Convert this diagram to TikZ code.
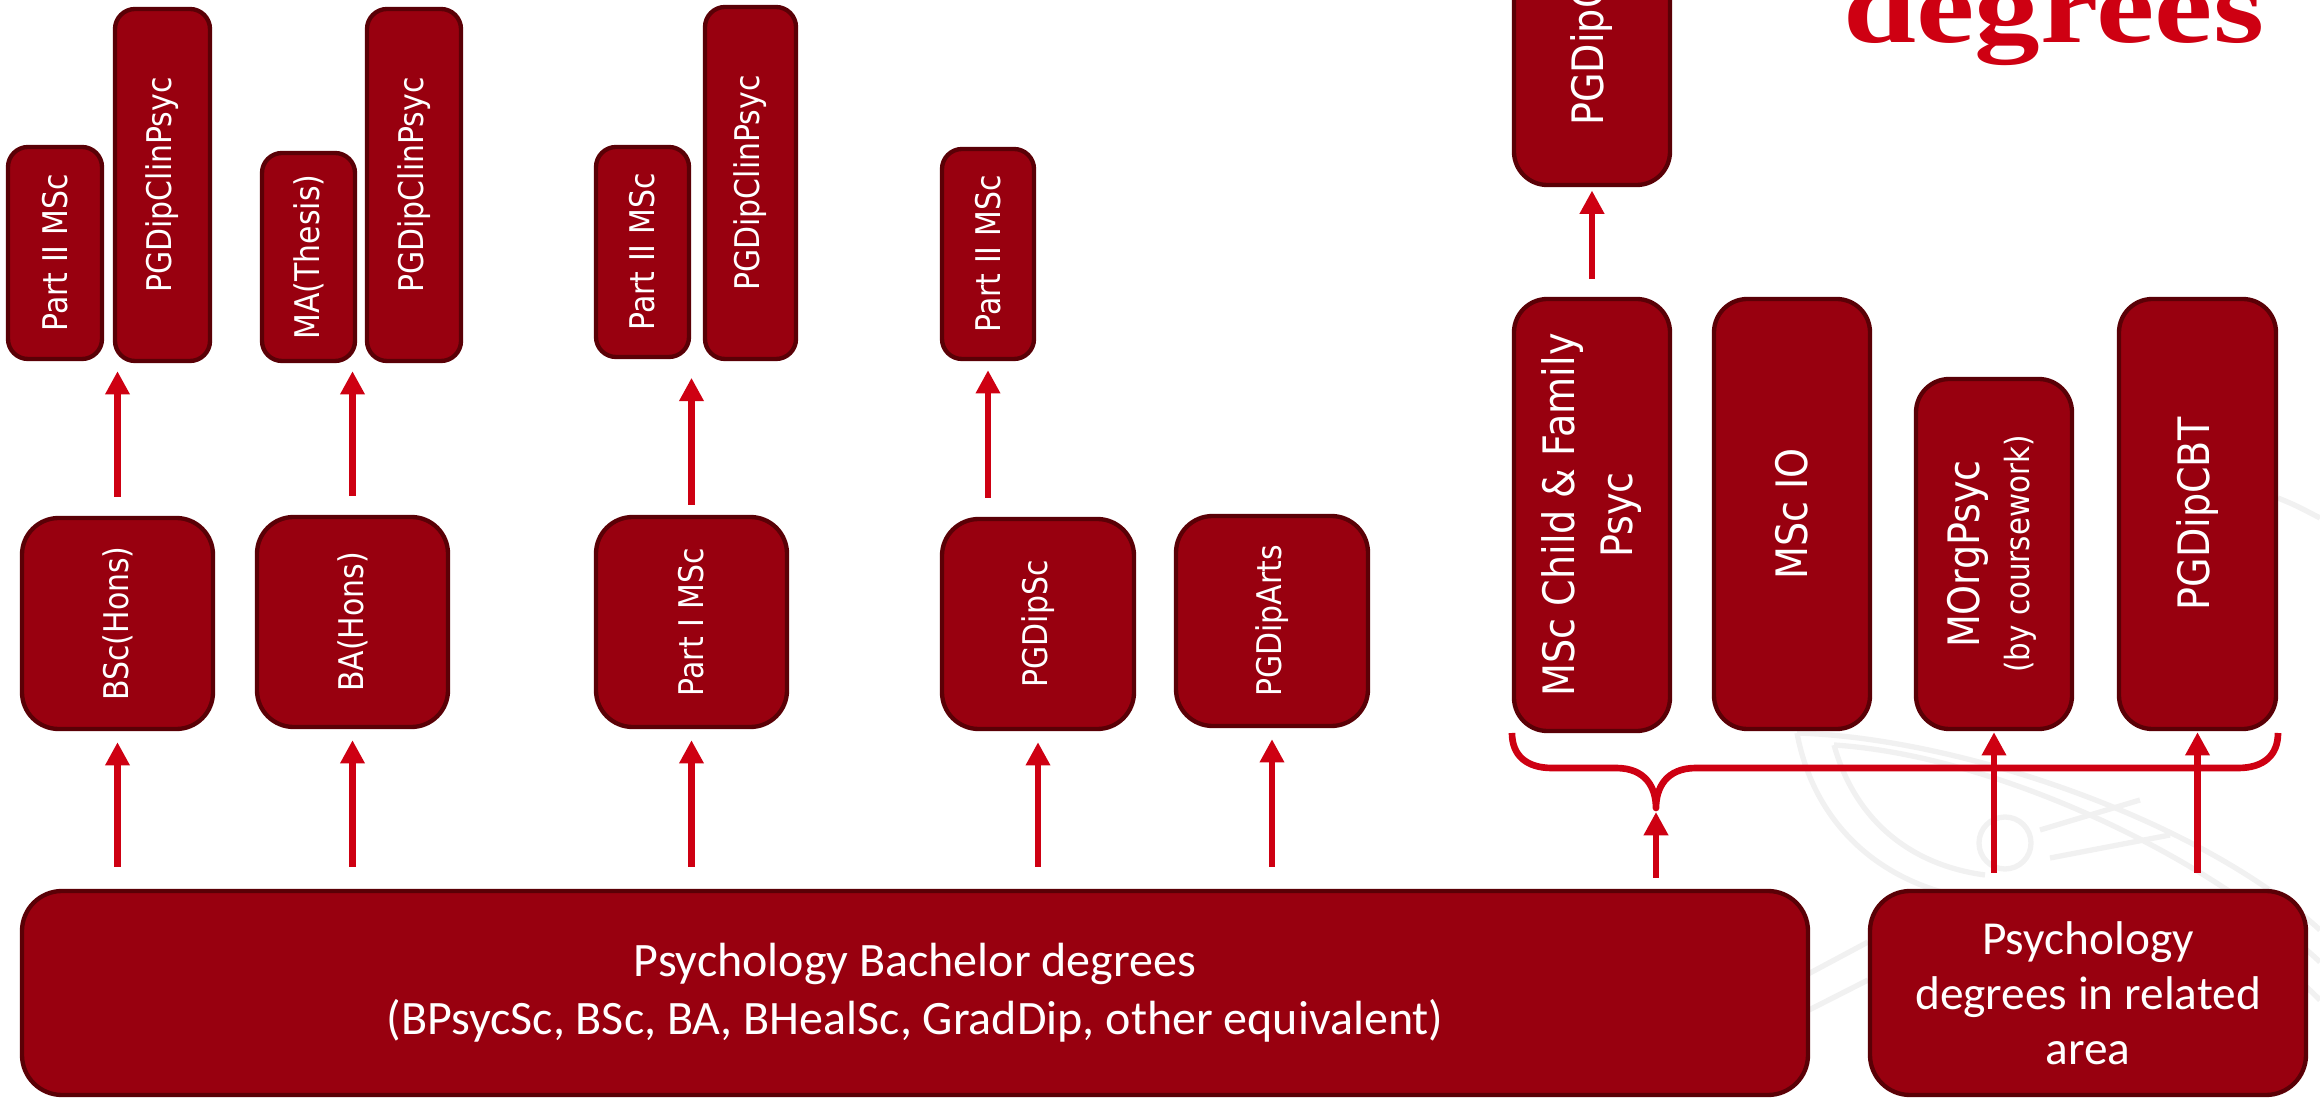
\documentclass[tikz,border=0pt]{standalone}
\usepackage{fontspec}
\setmainfont{DejaVu Sans}
\newfontfamily\calfont{Carlito}
\newfontfamily\serfont{Liberation Serif}
\usetikzlibrary{arrows.meta}
\definecolor{boxfill}{RGB}{152,0,15}
\definecolor{boxline}{RGB}{90,0,6}
\definecolor{arrred}{RGB}{206,0,18}
\definecolor{wm}{RGB}{241,241,241}
\newcommand\bx[7]{\node[#6, minimum width={(#4-#2-4)*0.3pt}, minimum height={(#5-#3-4)*0.3pt}] (#1) at ({(#2+#4)/2},{(#3+#5)/2}) {#7};}
\newcommand\vt[1]{\rotatebox{90}{\scalebox{0.88}[1]{#1}}}
\begin{document}
\begin{tikzpicture}[x=0.3pt, y=-0.3pt,
  box/.style={draw=boxline, fill=boxfill, line width=1.3pt, inner sep=0pt, text=white, rounded corners=#1},
  sbox/.style={box=6pt, font=\fontsize{10.2}{12}\selectfont},
  mbox/.style={box=11pt, font=\fontsize{10.2}{12}\selectfont},
  rbox/.style={box=10pt, font=\fontsize{13}{17.4}\selectfont},
  bbox/.style={box=12pt, align=center, font=\calfont\fontsize{14.4}{17.4}\selectfont},
  arr/.style={draw=arrred, line width=2pt, -{Triangle[width=7pt,length=7pt]}},
  brace/.style={draw=arrred, line width=2pt, line join=round}]
\useasboundingbox (0,0) rectangle (2320,1099);
\clip (0,0) rectangle (2320,1099);

% faint background watermark
\begin{scope}[draw=wm, line width=1.6pt]
\draw (1797,733) .. controls (1960,738) and (2200,820) .. (2320,930);
\draw (1834,745) .. controls (1990,755) and (2200,850) .. (2320,962);
\draw (1797,733) .. controls (1815,830) and (1890,895) .. (2000,902) .. controls (2100,905) and (2200,880) .. (2320,1000);
\draw (1834,745) .. controls (1855,820) and (1910,865) .. (1985,875);
\draw (2005,843) circle[radius=26];
\draw (2040,830) -- (2140,800);
\draw (2050,858) -- (2170,835);
\draw (1750,1005) -- (1868,942);
\draw (1750,1040) -- (1868,980);
\draw (2278,498) .. controls (2295,505) .. (2320,518);
\end{scope}

% title fragment
\node[anchor=base west, text=arrred, inner sep=0pt] (title) at (1843,43)
  {\scalebox{1.25}[1]{\serfont\bfseries\fontsize{31.5}{31.5}\selectfont degrees}};

% top row
\bx{ptwoa}{6}{145}{104}{361}{sbox}{\vt{Part II MSc}}
\bx{clina}{113}{7}{212}{363}{sbox}{\vt{PGDipClinPsyc}}
\bx{mathesis}{260}{151}{357}{363}{sbox}{\vt{MA(Thesis)}}
\bx{clinb}{365}{7}{463}{363}{sbox}{\vt{PGDipClinPsyc}}
\bx{ptwob}{594}{145}{691}{359}{sbox}{\vt{Part II MSc}}
\bx{clinc}{703}{5}{798}{361}{sbox}{\vt{PGDipClinPsyc}}
\bx{ptwoc}{940}{147}{1036}{361}{sbox}{\vt{Part II MSc}}

% middle row
\bx{bsc}{20}{516}{215}{731}{mbox}{\vt{BSc(Hons)}}
\bx{ba}{255}{515}{450}{729}{mbox}{\vt{BA(Hons)}}
\bx{pone}{594}{515}{789}{729}{mbox}{\vt{Part I MSc}}
\bx{pgsc}{940}{517}{1136}{731}{mbox}{\vt{PGDipSc}}
\bx{pgarts}{1174}{514}{1370}{728}{mbox}{\vt{PGDipArts}}

% right group
\bx{pgdc}{1512}{-210}{1672}{187}{rbox}{\vt{PGDipClinPsyc}}
\bx{child}{1512}{297}{1672}{733}{rbox}{\vt{\begin{tabular}{@{}c@{}}MSc Child \& Family\\Psyc\end{tabular}}}
\bx{io}{1712}{297}{1872}{731}{rbox}{\vt{MSc IO}}
\bx{morg}{1914}{377}{2074}{731}{rbox}{\vt{\fontsize{13}{15}\selectfont\begin{tabular}{@{}c@{}}MOrgPsyc\\\fontsize{10}{12}\selectfont(by coursework)\end{tabular}}}
\bx{cbt}{2117}{297}{2278}{731}{rbox}{\vt{PGDipCBT}}

% bottom row
\bx{bach}{20}{889}{1810}{1097}{bbox}{Psychology Bachelor degrees\\(BPsycSc, BSc, BA, BHealSc, GradDip, other equivalent)}
\bx{rel}{1868}{889}{2308}{1097}{bbox, font=\calfont\fontsize{14.2}{16.5}\selectfont}{Psychology\\degrees in related\\area}

% brace
\coordinate (bL) at (1512,733);
\coordinate (bR) at (2278,733);
\coordinate (btip) at (1656,808);
\draw[brace] (bL) .. controls (1512,755) and (1526,768) .. (1552,768) -- (1616,768)
  .. controls (1646,768) and (1656,788) .. (btip)
  .. controls (1656,788) and (1666,768) .. (1696,768) -- (2238,768)
  .. controls (2264,768) and (2278,755) .. (bR);

% arrows up to top row
\draw[arr, shorten <=5.7pt, shorten >=2.4pt] (bsc.north) -- (bsc.north |- clina.south);
\draw[arr, shorten <=5.7pt, shorten >=2.4pt] (ba.north) -- (ba.north |- clinb.south);
\draw[arr, shorten <=3pt, shorten >=5pt] (pone.north) -- (pone.north |- clinc.south);
\draw[arr, shorten <=5.7pt, shorten >=2.7pt] (pgsc.north -| ptwoc.south) -- (ptwoc.south);

% arrows up to middle row
\draw[arr, shorten <=6.6pt, shorten >=3.3pt] (bach.north -| bsc.south) -- (bsc.south);
\draw[arr, shorten <=6.6pt, shorten >=3.3pt] (bach.north -| ba.south) -- (ba.south);
\draw[arr, shorten <=6.6pt, shorten >=3.3pt] (bach.north -| pone.south) -- (pone.south);
\draw[arr, shorten <=6.6pt, shorten >=3.3pt] (bach.north -| pgsc.south) -- (pgsc.south);
\draw[arr, shorten <=6.6pt, shorten >=3.3pt] (bach.north -| pgarts.south) -- (pgarts.south);

% right side arrows
\draw[arr, shorten <=5.4pt, shorten >=1pt] (child.north) -- (pgdc.south);
\draw[arr, shorten <=3.3pt, shorten >=1.2pt] (bach.north -| btip) -- (btip);
\draw[arr, shorten <=4.8pt, shorten >=0.3pt] (rel.north -| morg.south) -- (morg.south);
\draw[arr, shorten <=4.8pt, shorten >=0.3pt] (rel.north -| cbt.south) -- (cbt.south);
\end{tikzpicture}
\end{document}
